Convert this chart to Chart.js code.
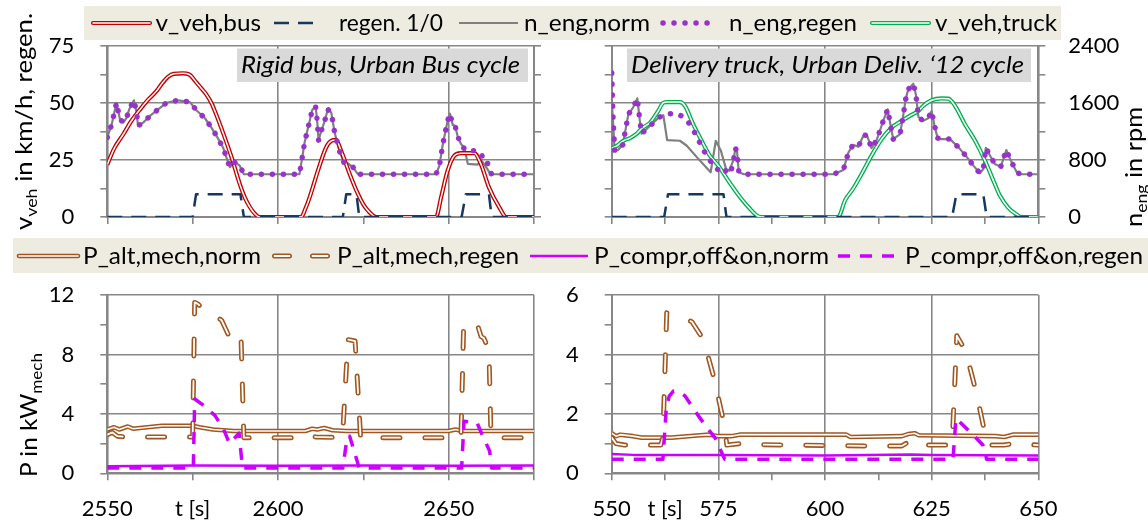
<!DOCTYPE html>
<html><head><meta charset="utf-8">
<script src="https://cdn.jsdelivr.net/npm/chart.js@4.4.1/dist/chart.umd.min.js"></script>
<style>
html,body{margin:0;padding:0;background:#fff;}
#wrap{position:relative;width:1148px;height:522px;overflow:hidden;font-family:Lato,sans-serif;}
.bg{position:absolute;background:#EEECE1;}
canvas{position:absolute;left:0;top:0;}
svg{position:absolute;left:0;top:0;}
</style></head><body>
<div id="wrap">
 <div class="bg" style="left:84px;top:6px;width:977px;height:34px"></div>
 <div class="bg" style="left:13px;top:238px;width:1135px;height:35px"></div>
 <canvas id="cTL" width="1148" height="522"></canvas>
 <canvas id="cTR" width="1148" height="522"></canvas>
 <canvas id="cBL" width="1148" height="522"></canvas>
 <canvas id="cBR" width="1148" height="522"></canvas>
 <svg width="1148" height="522" font-family="Lato, sans-serif">
  <!-- panel title boxes -->
  <rect x="237" y="48.5" width="291" height="33.5" fill="#D9D9D9"/>
  <text x="241" y="73" font-size="23" font-style="italic" textLength="279" lengthAdjust="spacingAndGlyphs">Rigid bus, Urban Bus cycle</text>
  <rect x="627" y="48.5" width="404" height="33.5" fill="#D9D9D9"/>
  <text x="631" y="73" font-size="23" font-style="italic" textLength="393" lengthAdjust="spacingAndGlyphs">Delivery truck, Urban Deliv. ‘12 cycle</text>
  <!-- top legend -->
  <g fill="none">
   <line x1="93" y1="23" x2="150" y2="23" stroke="#C00000" stroke-width="4.2" stroke-linecap="round"/>
   <line x1="93" y1="23" x2="150" y2="23" stroke="#fff" stroke-width="1.5" stroke-linecap="round"/>
   <line x1="274" y1="23" x2="322" y2="23" stroke="#17375E" stroke-width="2.5" stroke-dasharray="15 9"/>
   <line x1="459" y1="23" x2="518" y2="23" stroke="#7F7F7F" stroke-width="2.2"/>
   <line x1="663" y1="23" x2="718" y2="23" stroke="#9932CC" stroke-width="5.5" stroke-dasharray="0.01 11" stroke-linecap="round"/>
   <line x1="872" y1="23" x2="929" y2="23" stroke="#00B050" stroke-width="4.2" stroke-linecap="round"/>
   <line x1="872" y1="23" x2="929" y2="23" stroke="#fff" stroke-width="1.5" stroke-linecap="round"/>
  </g>
  <g font-size="23">
   <text x="155.5" y="30.5" textLength="105.5" lengthAdjust="spacingAndGlyphs">v_veh,bus</text>
   <text x="339" y="30.5" textLength="104" lengthAdjust="spacingAndGlyphs">regen. 1/0</text>
   <text x="524" y="30.5" textLength="126" lengthAdjust="spacingAndGlyphs">n_eng,norm</text>
   <text x="729" y="30.5" textLength="128" lengthAdjust="spacingAndGlyphs">n_eng,regen</text>
   <text x="935" y="30.5" textLength="122" lengthAdjust="spacingAndGlyphs">v_veh,truck</text>
  </g>
  <!-- bottom legend -->
  <g fill="none">
   <line x1="19" y1="256" x2="78" y2="256" stroke="#A0561E" stroke-width="4.6" stroke-linecap="round"/>
   <line x1="19" y1="256" x2="78" y2="256" stroke="#fff" stroke-width="1.6" stroke-linecap="round"/>
   <line x1="274.5" y1="256" x2="328" y2="256" stroke="#A0561E" stroke-width="5" stroke-dasharray="15 23" stroke-linecap="round"/>
   <line x1="274.5" y1="256" x2="328" y2="256" stroke="#fff" stroke-width="1.8" stroke-dasharray="15 23" stroke-linecap="round"/>
   <line x1="530" y1="256" x2="588" y2="256" stroke="#CC00FF" stroke-width="2.5"/>
   <line x1="838" y1="256" x2="898" y2="256" stroke="#CC00FF" stroke-width="3.5" stroke-dasharray="12 10"/>
  </g>
  <g font-size="23">
   <text x="83" y="263.5" textLength="178" lengthAdjust="spacingAndGlyphs">P_alt,mech,norm</text>
   <text x="337" y="263.5" textLength="182" lengthAdjust="spacingAndGlyphs">P_alt,mech,regen</text>
   <text x="594" y="263.5" textLength="235" lengthAdjust="spacingAndGlyphs">P_compr,off&amp;on,norm</text>
   <text x="905" y="263.5" textLength="238" lengthAdjust="spacingAndGlyphs">P_compr,off&amp;on,regen</text>
  </g>
  <!-- axis titles -->
  <text transform="translate(31.5,230) rotate(-90)" font-size="23" textLength="217" lengthAdjust="spacingAndGlyphs">v<tspan font-size="16" dy="5">veh</tspan><tspan dy="-5"> in km/h, regen.</tspan></text>
  <text transform="translate(37,477) rotate(-90)" font-size="23" textLength="124" lengthAdjust="spacingAndGlyphs">P in kW<tspan font-size="16" dy="5">mech</tspan></text>
  <text transform="translate(1142,227) rotate(-90)" font-size="23" textLength="120" lengthAdjust="spacingAndGlyphs">n<tspan font-size="16" dy="5">eng</tspan><tspan dy="-5"> in rpm</tspan></text>
 </svg>
</div>
<script>
// ---------- data: Rigid bus, Urban Bus cycle ----------
const busSpeed = [[2550,23],[2552,30],[2554.7,36.3],[2557,42],[2559.6,47.2],[2562,51.5],[2564.4,55.2],[2566,58.5],[2567.8,61.5],[2569.5,62.8],[2572,63],[2574,62.5],[2576.1,59],[2577.5,56.5],[2579,53.8],[2580.5,50],[2581.5,46.5],[2583.9,37],[2586.4,26.2],[2588.8,14.5],[2590.3,8.5],[2591.7,4.5],[2593,1.8],[2594.6,0],[2606.8,0],[2608,3.5],[2609.3,8.7],[2611.7,20.3],[2614.1,30.5],[2615.6,33.4],[2617,33.8],[2618.5,29],[2621,18.9],[2623.4,10.2],[2625,5.5],[2626.3,2.9],[2628.8,0],[2646.3,0],[2647.8,8.7],[2649.7,20.3],[2651.7,27],[2653.6,28],[2657.5,28],[2659.5,23],[2661.8,13],[2664.8,4.3],[2666.9,0],[2675,0]];
const busRegen = [[2550,0],[2575,0],[2576,10],[2589,10],[2590,0],[2619,0],[2620,10],[2623,10],[2623.8,0],[2653.8,0],[2655,10],[2661.8,10],[2662.6,0],[2675,0]];
const busEngNorm = [[2550,1117],[2551.3,1302],[2552.7,1603],[2553.7,1373],[2554.7,1325],[2555.7,1395],[2556.4,1510],[2557.8,1638],[2558.6,1466],[2559,1280],[2560.5,1325],[2562.5,1418],[2564.9,1510],[2567.3,1603],[2570.8,1638],[2574.2,1613],[2576.1,1498],[2578.6,1386],[2580.5,1255],[2582,1139],[2583.9,976],[2584.9,838],[2585.9,698],[2587.3,768],[2588.8,720],[2590,600],[2606.3,600],[2606.8,746],[2607.8,1046],[2608.6,1210],[2609.3,1350],[2610,1498],[2611,1558],[2611.4,1395],[2611.9,1078],[2612.7,1210],[2613.7,1350],[2614.6,1510],[2615.6,1466],[2616.6,1184],[2618,928],[2619.3,768],[2620.5,752],[2622,698],[2623.4,600],[2646.3,600],[2647.3,720],[2648.3,1024],[2649.7,1350],[2650.4,1450],[2651.2,1293],[2651.9,1280],[2652.6,1139],[2653.6,1024],[2654.6,976],[2655.6,746],[2658.5,736],[2659.5,800],[2660.5,736],[2662,624],[2663,600],[2675,600]];
const busEngRegen = [[2550,1117],[2551.3,1302],[2552.7,1603],[2553.7,1373],[2554.7,1325],[2555.7,1395],[2556.4,1510],[2557.8,1638],[2558.6,1466],[2559,1280],[2560.5,1325],[2562.5,1418],[2564.9,1510],[2567.3,1603],[2570.8,1638],[2574.2,1613],[2576.1,1498],[2578.6,1386],[2580.5,1255],[2582,1139],[2583.9,976],[2584.9,838],[2585.9,698],[2587.3,768],[2588.8,720],[2590,600],[2606.3,600],[2606.8,746],[2607.8,1046],[2608.6,1210],[2609.3,1350],[2610,1498],[2611,1558],[2611.4,1395],[2611.9,1078],[2612.7,1210],[2613.7,1350],[2614.6,1510],[2615.6,1466],[2616.6,1184],[2618,928],[2619.3,768],[2620.5,752],[2622,698],[2623.4,600],[2646.3,600],[2647.3,720],[2648.3,1024],[2649.7,1350],[2650.4,1450],[2651.2,1293],[2651.9,1280],[2652.6,1139],[2653.6,1024],[2655,930],[2658,930],[2659.5,896],[2660.5,752],[2661.5,752],[2662.5,608],[2663,600],[2675,600]];
const busAltNorm = [[2550,2.95],[2552,3.1],[2553.5,2.95],[2556,3.15],[2557.5,3.0],[2566,3.2],[2575,3.2],[2577,3.1],[2581,2.95],[2587,2.85],[2608,2.85],[2610,3.0],[2611.5,2.95],[2613.5,3.05],[2616,2.9],[2620,2.85],[2650,2.85],[2652,2.95],[2654,2.85],[2675,2.85]];
const busAltRegen = [[2550,2.6],[2551.5,2.75],[2553,2.5],[2555,2.45],[2575,2.45],[2575.6,11.5],[2576.5,11.4],[2578,11.1],[2583.5,10.3],[2585.5,9.3],[2587,9.1],[2588,8.6],[2589.2,9.0],[2590,2.4],[2607,2.4],[2609,2.6],[2611,2.45],[2618.9,2.4],[2620.5,9.0],[2622.6,8.9],[2624.2,2.4],[2650,2.4],[2652,2.55],[2653.6,2.4],[2654.4,10.0],[2658.3,10.1],[2659.5,9.2],[2660.3,9.1],[2661.8,8.3],[2662.4,2.4],[2675,2.4]];
const busComprNorm = [[2550,0.48],[2575,0.52],[2600,0.5],[2625,0.52],[2650,0.5],[2675,0.52]];
const busComprRegen = [[2550,0.35],[2575.2,0.35],[2575.6,5.0],[2578,4.6],[2581.5,3.9],[2584,3.0],[2585.8,2.0],[2588.6,2.7],[2589.6,0.35],[2619,0.35],[2620.3,2.5],[2621,2.5],[2623.8,0.35],[2653.8,0.35],[2654.5,3.5],[2658.3,3.4],[2660,2.5],[2662,1.5],[2662.6,0.35],[2675,0.35]];
// ---------- data: Delivery truck, Urban Delivery '12 cycle ----------
const truckSpeed = [[550,30.2],[551.2,31.2],[552.7,33.4],[554.3,34.6],[555.9,36.6],[557,38.8],[559,41.4],[560.9,46.5],[562.1,50.1],[563,50.4],[566,50.4],[567.2,48.7],[569.1,40.7],[571.1,33.4],[573,26.9],[575,22.5],[577.3,16],[580.1,8.7],[582.4,3.6],[584,0.7],[585,0],[603.1,0],[604.7,7.3],[606.6,12.4],[608.6,18.9],[610.9,26.9],[613.3,34.2],[615.6,39.2],[618,42.2],[620.3,44.8],[621.9,46.5],[623,48.7],[625,51.2],[627.3,52],[628.9,51.9],[630.5,48.7],[632.8,40.7],[635.2,33.4],[637.5,24.7],[639.8,14.5],[641,9.4],[643,4],[645,1],[646,0],[650,0]];
const truckRegen = [[550,0],[562.3,0],[563.2,10],[576.2,10],[576.9,0],[629.8,0],[630.8,10],[637.1,10],[637.9,0],[650,0]];
const truckEngNorm = [[550,1650],[550.7,930],[551.5,940],[552.6,1014],[553.9,1440],[555,1535],[556,1665],[556.6,1350],[557,1170],[559,1280],[561,1395],[562.1,1430],[563,1080],[566,1070],[567.6,1000],[570,837],[573.2,628],[574.4,1070],[575.6,930],[576.8,675],[577.6,650],[578.6,814],[579,967],[579.4,907],[579.8,628],[581,600],[602,600],[604.3,660],[605.5,907],[606.6,1014],[607.8,986],[609,1140],[609.8,1153],[610.9,967],[612.1,1079],[613.7,1358],[614.7,1511],[615.5,1246],[616,1093],[617.6,1163],[618.4,1451],[618.9,1651],[619.5,1790],[620.7,1870],[621.3,1720],[621.9,1404],[623,1349],[624.2,1386],[625,1488],[625.6,1302],[626.4,1107],[627.3,1093],[629.3,1093],[631.3,977],[633,860],[634.8,721],[636.3,614],[637.1,674],[637.7,970],[638.7,860],[639.8,745],[641.2,705],[642.5,940],[643.5,800],[645,620],[646,600],[650,600]];
const truckEngRegen = [[550,2020],[550.3,1400],[550.7,930],[551.5,940],[552.6,1014],[553.9,1440],[555,1535],[556,1665],[556.6,1350],[557,1170],[559,1280],[561,1395],[562.1,1430],[563,1450],[565.5,1450],[567.5,1372],[568.9,1246],[570.2,1107],[571.2,967],[572.6,837],[574,707],[576.2,605],[577.3,698],[578,651],[578.6,814],[579,967],[579.4,907],[579.8,628],[581,600],[602,600],[604.3,660],[605.5,907],[606.6,1014],[607.8,986],[609,1140],[609.8,1153],[610.9,967],[612.1,1079],[613.7,1358],[614.7,1511],[615.5,1246],[616,1093],[617.6,1163],[618.4,1451],[618.9,1651],[619.5,1790],[620.7,1870],[621.3,1720],[621.9,1404],[623,1349],[624.2,1386],[625,1488],[625.6,1302],[626.4,1107],[627.3,1093],[629.3,1093],[631.3,977],[633,860],[634.8,721],[636.3,614],[637.1,674],[637.7,970],[638.7,860],[639.8,745],[641.2,705],[642.5,940],[643.5,800],[645,620],[646,600],[650,600]];
const truckAltNorm = [[550,1.35],[551,1.25],[552,1.3],[555,1.25],[557,1.2],[564,1.2],[570,1.27],[573,1.3],[575,1.25],[578,1.25],[580,1.3],[605,1.3],[606,1.22],[618,1.25],[619.5,1.32],[621,1.35],[622,1.28],[640,1.25],[642,1.22],[644,1.3],[650,1.3]];
const truckAltRegen = [[550,1.2],[551,1.0],[553,0.95],[561.5,0.95],[562,1.2],[562.9,5.4],[564.2,5.35],[568.8,5.1],[571.5,4.5],[574,3.2],[576.3,1.7],[577,0.95],[580,1.0],[582,0.97],[610,0.92],[618,0.92],[619.5,1.05],[621,1.1],[622,0.95],[629.8,0.95],[630.9,4.63],[633,4.1],[635.5,2.7],[637.4,1.4],[638,0.95],[642,0.95],[644,1.0],[650,0.95]];
const truckComprNorm = [[550,0.65],[555,0.62],[575,0.62],[600,0.6],[620,0.63],[625,0.62],[650,0.6]];
const truckComprRegen = [[550,0.47],[562,0.47],[562.8,2.2],[563.5,2.6],[564.5,2.77],[566,2.72],[567.2,2.6],[570,2.0],[572.5,1.5],[574.2,1.2],[576.5,0.47],[630,0.47],[630.7,1.85],[632.5,1.6],[635,1.25],[637,0.95],[637.9,0.47],[650,0.47]];
// ---------- tick labels ----------
const busXLabels = [[2550,'2550'],[2575,'t [s]'],[2600,'2600'],[2650,'2650']];
const truckXLabels = [[550,'550'],[562.5,'t [s]'],[575,'575'],[600,'600'],[625,'625'],[650,'650']];
const speedYLabels = [0,25,50,75];
const rpmYLabels = [0,800,1600,2400];
const busPYLabels = [0,4,8,12];
const truckPYLabels = [0,2,4,6];

// ---------- styling helpers ----------
const GRID = '#878787';
const CLEAR = 'rgba(0,0,0,0)';
const FONT = {family:'Lato', size:22};
Chart.defaults.font.family = 'Lato';
const pts = a => a.map(p => ({x:p[0], y:p[1]}));
const near = (a,b) => Math.abs(a-b) < 1e-6;
const labelFrom = list => v => { const f = list.find(l => near(l[0], v)); return f ? f[1] : ''; };
const labelIn = list => v => list.some(l => near(l, v)) ? String(v) : '';

function line(data, color, width, axis, extra) {
  return Object.assign({data: pts(data), yAxisID: axis, borderColor: color, borderWidth: width,
    pointRadius: 0, fill: false, tension: 0, borderJoinStyle: 'round'}, extra || {});
}
function dbl(data, color, axis, extra) {
  const e = extra || {};
  return [
    line(data, '#fff', e.inner || 1.5, axis, e),
    line(data, color, e.outer || 4.2, axis, e)
  ];
}
function xScale(min, max, step, isMajor, labelFn, height) {
  return {type:'linear', position:'bottom', min, max,
    ticks:{stepSize: step, autoSkip:false, maxRotation:0, color:'#000', font:FONT, padding:15, callback: labelFn},
    grid:{color: c => isMajor(c.tick.value) ? GRID : CLEAR, tickColor: GRID, tickLength: 7, lineWidth: 1.6},
    border:{color: GRID, width: 2},
    afterFit: s => { s.height = height; }};
}
function yScale(pos, min, max, step, isMajor, labelFn, width, drawGrid, pad) {
  return {type:'linear', position: pos, min, max,
    ticks:{stepSize: step, autoSkip:false, color:'#000', font:FONT, padding: pad, callback: labelFn},
    grid:{drawOnChartArea: drawGrid, color: c => isMajor(c.tick.value) ? GRID : CLEAR, tickColor: GRID, tickLength: 7, lineWidth: 1.6},
    border:{color: GRID, width: 2},
    afterFit: s => { s.width = width; }};
}
function make(id, pad, datasets, scales) {
  new Chart(document.getElementById(id), {
    type:'line', data:{datasets},
    options:{responsive:false, animation:false, devicePixelRatio:1, events:[],
      layout:{padding: pad},
      plugins:{legend:{display:false}, tooltip:{enabled:false}},
      scales}
  });
}
const mod = (m) => v => Math.abs(((v % m) + m) % m) < 1e-6 || Math.abs(((v % m) + m) % m - m) < 1e-6;
const blank = () => '';

const PURPLE = '#9932CC', NAVY = '#17375E', GRAY = '#7F7F7F', RED = '#C00000', GREEN = '#00B050';
const BROWN = '#A0561E', MAG = '#CC00FF';
const dotted = {borderDash:[0.01, 11], borderCapStyle:'round'};
const navyDash = {borderDash:[15, 9]};
const smooth = {cubicInterpolationMode:'monotone'};
const brownDash = {borderDash:[17, 25], borderCapStyle:'round', outer:5, inner:1.8};
const magDash = {borderDash:[12, 10]};

// top-left: bus speeds
make('cTL', {left:47.3, right:604, top:46, bottom:295}, [
  line(busEngRegen, PURPLE, 5.5, 'y2', dotted),
  line(busRegen, NAVY, 2.5, 'y', navyDash),
  ...dbl(busSpeed, RED, 'y', smooth),
  line(busEngNorm, GRAY, 2.2, 'y2')
], {
  x: xScale(2550, 2675, 25, mod(50), blank, 10),
  y: yScale('left', 0, 75, 12.5, mod(25), labelIn(speedYLabels), 60, true, 26),
  y2: yScale('right', 0, 2400, 400, mod(800), blank, 10, false, 0)
});
// top-right: truck speeds
make('cTR', {left:601.7, right:19.7, top:46, bottom:295}, [
  line(truckEngRegen, PURPLE, 5.5, 'y2', dotted),
  line(truckRegen, NAVY, 2.5, 'y', navyDash),
  ...dbl(truckSpeed, GREEN, 'y', smooth),
  line(truckEngNorm, GRAY, 2.2, 'y2')
], {
  x: xScale(550, 650, 12.5, mod(25), blank, 10),
  y: yScale('left', 0, 75, 12.5, mod(25), blank, 10, true, 0),
  y2: yScale('right', 0, 2400, 400, mod(800), labelIn(rpmYLabels), 90, false, 23)
});
// bottom-left: bus power
make('cBL', {left:47.3, right:614, top:295, bottom:0.7}, [
  line(busComprRegen, MAG, 3.5, 'y', magDash),
  line(busComprNorm, MAG, 2.5, 'y'),
  ...dbl(busAltRegen, BROWN, 'y', brownDash),
  ...dbl(busAltNorm, BROWN, 'y', {outer:4.6, inner:1.6})
], {
  x: xScale(2550, 2675, 25, v => mod(50)(v) || near(v, 2675), labelFrom(busXLabels), 48),
  y: yScale('left', 0, 12, 2, mod(4), labelIn(busPYLabels), 60, true, 26)
});
// bottom-right: truck power
make('cBR', {left:551.7, right:109.7, top:295, bottom:0.7}, [
  line(truckComprRegen, MAG, 3.5, 'y', magDash),
  line(truckComprNorm, MAG, 2.5, 'y'),
  ...dbl(truckAltRegen, BROWN, 'y', brownDash),
  ...dbl(truckAltNorm, BROWN, 'y', {outer:4.6, inner:1.6})
], {
  x: xScale(550, 650, 12.5, mod(25), labelFrom(truckXLabels), 48),
  y: yScale('left', 0, 6, 1, mod(2), labelIn(truckPYLabels), 60, true, 26)
});
</script>
</body></html>
